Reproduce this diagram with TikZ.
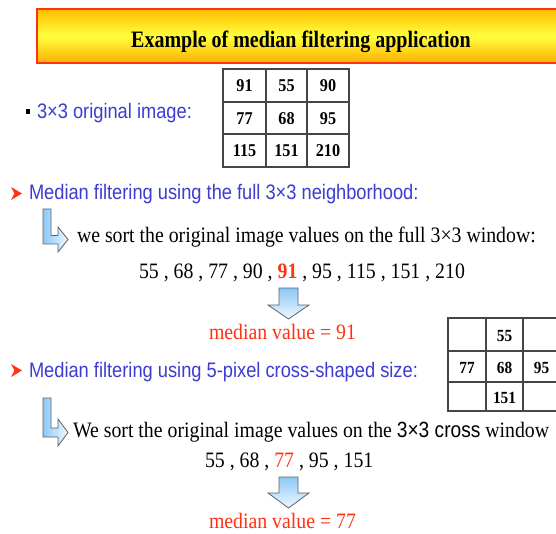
\documentclass[tikz,border=0pt]{standalone}
\usepackage{fontspec}
\setmainfont{Liberation Serif}[FakeStretch=0.9]
\newfontfamily\sansn{Liberation Sans}[FakeStretch=0.87]
\newfontfamily\titlefont{Liberation Serif}[FakeStretch=0.85]
\definecolor{tblue}{RGB}{60,60,210}
\definecolor{tred}{RGB}{255,50,20}
\definecolor{tgray}{RGB}{70,70,70}
\definecolor{abluetop}{RGB}{140,200,245}
\definecolor{abluebot}{RGB}{240,248,255}
\definecolor{aedge}{RGB}{90,100,110}
\definecolor{ttop}{RGB}{255,190,0}
\definecolor{tmid}{RGB}{255,255,60}
\definecolor{tbot}{RGB}{255,175,0}
\tikzset{
  txt/.style={inner sep=0pt, outer sep=0pt, anchor=base west},
  serifbig/.style={font=\fontsize{22}{26}\selectfont},
  sansblue/.style={font=\sansn\fontsize{21}{25}\selectfont, text=tblue},
  cellnum/.style={font=\bfseries\fontsize{18}{21}\selectfont, inner sep=0pt, anchor=base},
  crossnum/.style={font=\bfseries\fontsize{17}{20}\selectfont, inner sep=0pt, anchor=base},
  gridline/.style={draw=tgray, line width=1.3pt},
  downarrow/.style={draw=aedge, line width=0.8pt, top color=abluetop, bottom color=abluebot},
  bentarrow/.style={draw=aedge, line width=0.8pt, left color=abluetop, right color=abluebot},
  marker/.style={fill=tred}
}
\begin{document}
\begin{tikzpicture}[x=1pt, y=-1pt]
\clip (0,0) rectangle (556,534);
\fill[white] (0,0) rectangle (556,534);
% title
\draw[draw=tred, line width=1.8pt, top color=ttop, bottom color=tbot, middle color=tmid] (37,9) rectangle (580,63);
\node[anchor=base, inner sep=0pt, font=\titlefont\bfseries\fontsize{23.5}{28}\selectfont] (title) at (301,48) {Example of median filtering application};
% line 1
\fill[black] (26,109) rectangle (30,114);
\node[txt, sansblue] (l1) at (37,119) {3×3 original image:};
% table 1
\draw[gridline] (223,69) rectangle (349,167);
\draw[gridline] (266,69) -- (266,167) (307,69) -- (307,167) (223,102) -- (349,102) (223,134) -- (349,134);
\node[cellnum] (a11) at (244.5,92) {91};
\node[cellnum] (a12) at (286.5,92) {55};
\node[cellnum] (a13) at (328,92) {90};
\node[cellnum] (a21) at (244.5,124.5) {77};
\node[cellnum] (a22) at (286.5,124.5) {68};
\node[cellnum] (a23) at (328,124.5) {95};
\node[cellnum] (a31) at (244.5,157) {115};
\node[cellnum] (a32) at (286.5,157) {151};
\node[cellnum] (a33) at (328,157) {210};
% section 2
\fill[marker] (11,187) -- (22,193.5) -- (11,200) -- (14.5,193.5) -- cycle;
\node[txt, sansblue] (l2) at (29,200) {Median filtering using the full 3×3 neighborhood:};
\draw[bentarrow] (43,209) -- (51,209) -- (51,235.5) -- (58,235.5) -- (58,227) -- (68,239.5) -- (58,252) -- (58,244) -- (43,244) -- cycle;
\node[txt, serifbig] (s1) at (77,243) {we sort the original image values on the full 3×3 window:};
\node[txt, serifbig] (q1) at (139,278) {55 , 68 , 77 , 90 , {\color{tred}\bfseries 91} , 95 , 115 , 151 , 210};
\draw[downarrow] (279,288) -- (298,288) -- (298,305) -- (309,305) -- (288.5,319) -- (268,305) -- (279,305) -- cycle;
\node[txt, serifbig, text=tred] (m1) at (209,339) {median value = 91};
% section 3
\fill[marker] (11,364) -- (22,370.5) -- (11,377) -- (14.5,370.5) -- cycle;
\node[txt, sansblue] (l3) at (29,377) {Median filtering using 5-pixel cross-shaped size:};
% cross table
\draw[gridline] (448,318) rectangle (560,411);
\draw[gridline] (486,318) -- (486,411) (523,318) -- (523,411) (448,351) -- (560,351) (448,382) -- (560,382);
\node[crossnum] (c12) at (504.5,341) {55};
\node[crossnum] (c21) at (467,373) {77};
\node[crossnum] (c22) at (504.5,373) {68};
\node[crossnum] (c23) at (541.5,373) {95};
\node[crossnum] (c32) at (504.5,403) {151};
\draw[bentarrow] (43,398) -- (51,398) -- (51,428) -- (58,428) -- (58,419) -- (68,432.5) -- (58,446) -- (58,437) -- (43,437) -- cycle;
\node[txt, serifbig] (s2) at (73,437) {We sort the original image values on the {\sansn 3×3 cross} window};
\node[txt, serifbig] (q2) at (205,467) {55 , 68 , {\color{tred}77} , 95 , 151};
\draw[downarrow] (279,477) -- (298,477) -- (298,493) -- (309,493) -- (288.5,508) -- (268,493) -- (279,493) -- cycle;
\node[txt, serifbig, text=tred] (m2) at (209,528) {median value = 77};
\end{tikzpicture}
\end{document}
